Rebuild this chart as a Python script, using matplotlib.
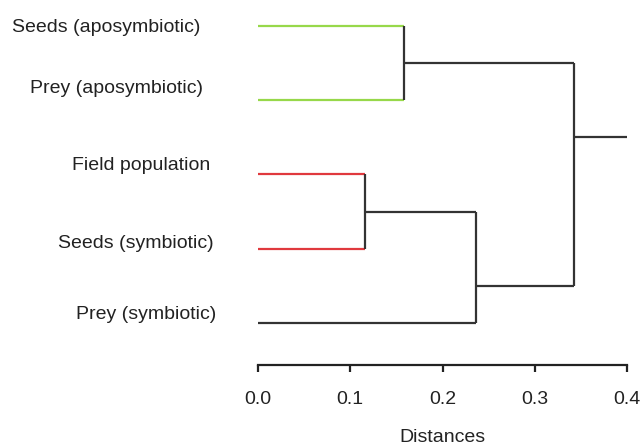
import matplotlib
matplotlib.use("Agg")
from matplotlib import pyplot as plt

plt.rcParams['font.family'] = ['Liberation Sans', 'DejaVu Sans']

# leaves, top to bottom
labels = ["Seeds (aposymbiotic)", "Prey (aposymbiotic)", "Field population",
          "Seeds (symbiotic)", "Prey (symbiotic)"]
leaf_colors = ["#97d84a", "#97d84a", "#e0393e", "#e0393e", "#333333"]

# merges: (left child, right child, height, drawn position); ids 0-4 are leaves
merges = [
    (0, 1, 0.158, 1.5),
    (2, 3, 0.116, 3.5),
    (6, 4, 0.236, 4.5),
    (5, 7, 0.343, 2.5),
]
root_top = 0.4

# label anchor offsets (pixels) relative to leaf line start
label_dx = [-58, -55, -48, -44, -42]
label_dy = [-2, 12, 9, 5, 8]

fig = plt.figure(figsize=(6.42, 4.44), dpi=100)
ax = fig.add_axes([258 / 642, 1 - 365 / 444, 369 / 642, 365 / 444])

line_col = "#333333"
lw = 1.6

height = {i: 0.0 for i in range(len(labels))}
pos = {i: i + 1 for i in range(len(labels))}
color = {i: leaf_colors[i] for i in range(len(labels))}

node = len(labels)
for a, b, h, p in merges:
    for c in (a, b):
        ax.plot([height[c], h], [pos[c], pos[c]], color=color[c], lw=lw,
                solid_capstyle='butt', clip_on=False)
    ax.plot([h, h], [pos[a], pos[b]], color=line_col, lw=lw,
            solid_capstyle='butt', clip_on=False)
    height[node] = h
    pos[node] = p
    color[node] = line_col
    node += 1

root = node - 1
ax.plot([height[root], root_top], [pos[root], pos[root]], color=line_col, lw=lw,
        solid_capstyle='butt', clip_on=False)

for i, lab in enumerate(labels):
    ax.annotate(lab, xy=(0, i + 1), xytext=(label_dx[i], label_dy[i]),
                textcoords='offset pixels', ha='right', va='center',
                fontsize=14, color="#222222")

ax.set_xlim(0, 0.4)
ax.set_ylim(5.566, 0.65)
for s in ['top', 'right', 'left']:
    ax.spines[s].set_visible(False)
ax.spines['bottom'].set_linewidth(1.6)
ax.spines['bottom'].set_color("#222222")
ax.set_yticks([])
ax.set_xticks([0.0, 0.1, 0.2, 0.3, 0.4])
ax.set_xticklabels(["0.0", "0.1", "0.2", "0.3", "0.4"])
ax.tick_params(axis='x', length=5, width=1.6, pad=13.5, labelsize=14,
               color="#222222", labelcolor="#222222")
ax.set_xlabel("Distances", fontsize=14, color="#222222", labelpad=15)
ax.patch.set_visible(False)

plt.savefig("out.png", dpi=100)
